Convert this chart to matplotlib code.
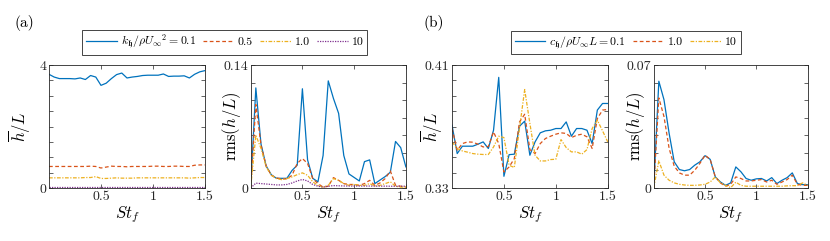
import matplotlib
matplotlib.use('Agg')
import matplotlib.pyplot as plt
import numpy as np

plt.rcParams['font.family'] = 'serif'
plt.rcParams['font.serif'] = ['cmr10', 'DejaVu Serif']
plt.rcParams['mathtext.fontset'] = 'cm'
plt.rcParams['axes.formatter.use_mathtext'] = True
plt.rcParams['axes.unicode_minus'] = False

# Strouhal grid
St = [0.0, 0.05, 0.1, 0.15, 0.2, 0.25, 0.3, 0.35, 0.4, 0.45, 0.5, 0.55, 0.6, 0.65, 0.7, 0.75,
      0.8, 0.85, 0.9, 0.95, 1.0, 1.05, 1.1, 1.15, 1.2, 1.25, 1.3, 1.35, 1.4, 1.45, 1.5]

# (a) stiffness k_h : mean h/L
k01_mean = [3.70, 3.61, 3.56, 3.56, 3.56, 3.55, 3.58, 3.53, 3.66, 3.61, 3.34, 3.41, 3.56, 3.69, 3.74, 3.58,
            3.61, 3.63, 3.66, 3.67, 3.67, 3.67, 3.71, 3.63, 3.64, 3.64, 3.65, 3.58, 3.70, 3.78, 3.82]
k05_mean = [0.70, 0.70, 0.70, 0.70, 0.70, 0.70, 0.70, 0.70, 0.71, 0.70, 0.65, 0.68, 0.71, 0.70, 0.70, 0.69,
            0.70, 0.70, 0.70, 0.70, 0.71, 0.71, 0.70, 0.70, 0.71, 0.71, 0.70, 0.70, 0.74, 0.75, 0.75]
k1_mean = [0.33, 0.33, 0.33, 0.33, 0.33, 0.33, 0.33, 0.34, 0.34, 0.37, 0.31, 0.31, 0.32, 0.33, 0.32, 0.32,
           0.32, 0.33, 0.33, 0.33, 0.33, 0.33, 0.33, 0.33, 0.33, 0.33, 0.33, 0.32, 0.33, 0.34, 0.34]
k10_mean = [0.02, 0.02, 0.02, 0.02, 0.02, 0.02, 0.02, 0.02, 0.02, 0.02, 0.02, 0.02, 0.02, 0.02, 0.02, 0.02,
            0.02, 0.02, 0.02, 0.02, 0.02, 0.02, 0.02, 0.02, 0.02, 0.02, 0.02, 0.02, 0.02, 0.02, 0.02]

# (a) rms h/L
k01_rms = [0.0, 0.114, 0.050, 0.025, 0.015, 0.011, 0.011, 0.011, 0.020, 0.026, 0.113, 0.032, 0.011, 0.007, 0.037, 0.122,
           0.102, 0.085, 0.037, 0.016, 0.012, 0.008, 0.030, 0.032, 0.005, 0.009, 0.013, 0.018, 0.053, 0.046, 0.024]
k05_rms = [0.0, 0.095, 0.049, 0.025, 0.0145, 0.0114, 0.0103, 0.0103, 0.0145, 0.028, 0.0335, 0.028, 0.0107, 0.005, 0.001, 0.002,
           0.0118, 0.0087, 0.005, 0.004, 0.004, 0.003, 0.005, 0.0087, 0.003, 0.0057, 0.0107, 0.0194, 0.003, 0.002, 0.001]
k1_rms = [0.0, 0.060, 0.045, 0.024, 0.0145, 0.0107, 0.0095, 0.0107, 0.0126, 0.0152, 0.0172, 0.0145, 0.007, 0.003, 0.001, 0.003,
          0.0107, 0.0087, 0.005, 0.003, 0.004, 0.003, 0.003, 0.005, 0.0023, 0.003, 0.005, 0.007, 0.002, 0.001, 0.001]
k10_rms = [0.0, 0.0055, 0.005, 0.0045, 0.004, 0.0035, 0.0035, 0.004, 0.0057, 0.008, 0.0097, 0.008, 0.004, 0.002, 0.001, 0.002,
           0.0027, 0.0025, 0.0023, 0.0022, 0.0022, 0.0022, 0.0022, 0.0022, 0.0021, 0.0021, 0.0021, 0.002, 0.002, 0.002, 0.002]

# (b) damping c_h : mean h/L
c01_mean = [0.3709, 0.3524, 0.3572, 0.3572, 0.3572, 0.3585, 0.3600, 0.3557, 0.3676, 0.4020, 0.3376, 0.3517, 0.3520, 0.3702, 0.3735, 0.3513,
            0.3600, 0.3659, 0.3672, 0.3676, 0.3687, 0.3687, 0.3730, 0.3637, 0.3687, 0.3687, 0.3676, 0.3589, 0.3807, 0.3850, 0.3850]
c1_mean = [0.3687, 0.3546, 0.3589, 0.3600, 0.3598, 0.3585, 0.3567, 0.3570, 0.3665, 0.3589, 0.3404, 0.3437, 0.3491, 0.3730, 0.3780, 0.3550,
           0.3524, 0.3589, 0.3622, 0.3637, 0.3650, 0.3659, 0.3655, 0.3628, 0.3643, 0.3650, 0.3633, 0.3557, 0.3752, 0.3807, 0.3811]
c10_mean = [0.3600, 0.3557, 0.3541, 0.3533, 0.3524, 0.3520, 0.3518, 0.3518, 0.3567, 0.3637, 0.3628, 0.3448, 0.3433, 0.3687, 0.3941, 0.3720,
            0.3513, 0.3476, 0.3476, 0.3485, 0.3487, 0.3615, 0.3563, 0.3535, 0.3535, 0.3520, 0.3550, 0.3687, 0.3741, 0.3672, 0.3600]

# (b) rms h/L
c01_rms = [0.0, 0.0608, 0.0503, 0.0312, 0.0149, 0.0105, 0.0098, 0.0105, 0.0130, 0.0149, 0.0184, 0.0163, 0.0063, 0.0034, 0.0015, 0.0029,
           0.0120, 0.0092, 0.0054, 0.0044, 0.0052, 0.0054, 0.0040, 0.0059, 0.0025, 0.0044, 0.0059, 0.0086, 0.0025, 0.0019, 0.0019]
c1_rms = [0.0, 0.0513, 0.0407, 0.0226, 0.0124, 0.0086, 0.0073, 0.0073, 0.0101, 0.0140, 0.0187, 0.0163, 0.0063, 0.0029, 0.0010, 0.0021,
          0.0063, 0.0054, 0.0040, 0.0040, 0.0044, 0.0048, 0.0034, 0.0044, 0.0021, 0.0034, 0.0048, 0.0073, 0.0021, 0.0015, 0.0015]
c10_rms = [0.0, 0.0155, 0.0073, 0.0044, 0.0029, 0.0021, 0.0017, 0.0015, 0.0015, 0.0017, 0.0021, 0.0034, 0.0063, 0.0029, 0.0015, 0.0002,
           0.0033, 0.0015, 0.0010, 0.0010, 0.0010, 0.0010, 0.0010, 0.0010, 0.0010, 0.0010, 0.0012, 0.0013, 0.0013, 0.0029, 0.0015]

# colores MATLAB
azul = '#0072BD'
naranja = '#D95319'
amarillo = '#EDB120'
morado = '#7E2F8E'
lw = 0.9
discontinua = (0, (3, 2))
punto_raya = (0, (3, 1.2, 1, 1.2))
punteada = (0, (1, 1))

fig = plt.figure(figsize=(8.3, 2.41), dpi=100)

def estilo_ejes(ax, ylim, yticks, ylabels, ylabel, xlab):
    ax.set_xlim(0, 1.5)
    ax.set_ylim(*ylim)
    ax.set_xticks([0.5, 1.0, 1.5])
    ax.set_xticklabels(['0.5', '1', '1.5'])
    ax.set_yticks(yticks)
    ax.set_yticklabels(ylabels)
    ax.tick_params(direction='in', top=True, right=True, length=3, width=0.5,
                   labelsize=10, pad=2, colors='#262626')
    for s in ax.spines.values():
        s.set_linewidth(0.6)
        s.set_color('#262626')
    ax.set_xlabel(r'$St_f$', fontsize=12, labelpad=1)
    ax.set_ylabel(ylabel, fontsize=12)
    ax.yaxis.set_label_coords(xlab, 0.5)

# (a) media
ax1 = fig.add_axes([0.059, 0.220, 0.188, 0.510])
l1, = ax1.plot(St, k01_mean, color=azul, lw=lw, ls='-')
l2, = ax1.plot(St, k05_mean, color=naranja, lw=lw, ls=discontinua)
l3, = ax1.plot(St, k1_mean, color=amarillo, lw=lw, ls=punto_raya)
l4, = ax1.plot(St, k10_mean, color=morado, lw=lw, ls=punteada)
yt = [0, 0.5, 1, 1.5, 2, 2.5, 3, 3.5, 4]
estilo_ejes(ax1, (0, 4), yt, ['0'] + [''] * 7 + ['4'], r'$\overline{h}/L$', -0.105)

# (a) rms
ax2 = fig.add_axes([0.302, 0.220, 0.187, 0.510])
ax2.plot(St, k01_rms, color=azul, lw=lw, ls='-')
ax2.plot(St, k05_rms, color=naranja, lw=lw, ls=discontinua)
ax2.plot(St, k1_rms, color=amarillo, lw=lw, ls=punto_raya)
ax2.plot(St, k10_rms, color=morado, lw=lw, ls=punteada)
yt = [0, 0.02, 0.04, 0.06, 0.08, 0.10, 0.12, 0.14]
estilo_ejes(ax2, (0, 0.14), yt, ['0'] + [''] * 6 + ['0.14'], r'$\mathrm{rms}(h/L)$', -0.05)

# (b) media
ax3 = fig.add_axes([0.5446, 0.220, 0.1876, 0.510])
m1, = ax3.plot(St, c01_mean, color=azul, lw=lw, ls='-')
m2, = ax3.plot(St, c1_mean, color=naranja, lw=lw, ls=discontinua)
m3, = ax3.plot(St, c10_mean, color=amarillo, lw=lw, ls=punto_raya)
yt = [0.33, 0.34, 0.35, 0.36, 0.37, 0.38, 0.39, 0.40, 0.41]
estilo_ejes(ax3, (0.33, 0.41), yt, ['0.33'] + [''] * 7 + ['0.41'], r'$\overline{h}/L$', -0.045)

# (b) rms
ax4 = fig.add_axes([0.7876, 0.220, 0.1855, 0.510])
ax4.plot(St, c01_rms, color=azul, lw=lw, ls='-')
ax4.plot(St, c1_rms, color=naranja, lw=lw, ls=discontinua)
ax4.plot(St, c10_rms, color=amarillo, lw=lw, ls=punto_raya)
yt = [0, 0.01, 0.02, 0.03, 0.04, 0.05, 0.06, 0.07]
estilo_ejes(ax4, (0, 0.07), yt, ['0'] + [''] * 6 + ['0.07'], r'$\mathrm{rms}(h/L)$', -0.045)

# leyendas
opciones = dict(loc='center', fontsize=8.5, frameon=True, fancybox=False,
                edgecolor='#262626', framealpha=1, handlelength=2.6,
                handletextpad=0.35, columnspacing=0.6, borderpad=0.3,
                borderaxespad=0)
leg_a = fig.legend([l1, l2, l3, l4],
                   [r'$k_{\mathfrak{h}}/\rho U_\infty{}^2 = 0.1$', '0.5', '1.0', '10'],
                   bbox_to_anchor=(0.271, 0.824), ncol=4, **opciones)
leg_a.get_frame().set_linewidth(0.6)
leg_b = fig.legend([m1, m2, m3],
                   [r'$c_{\mathfrak{h}}/\rho U_\infty L = 0.1$', '1.0', '10'],
                   bbox_to_anchor=(0.754, 0.824), ncol=3, **opciones)
leg_b.get_frame().set_linewidth(0.6)

fig.text(0.018, 0.905, '(a)', fontsize=11, va='center')
fig.text(0.510, 0.905, '(b)', fontsize=11, va='center')

fig.savefig('out.png', dpi=100)
